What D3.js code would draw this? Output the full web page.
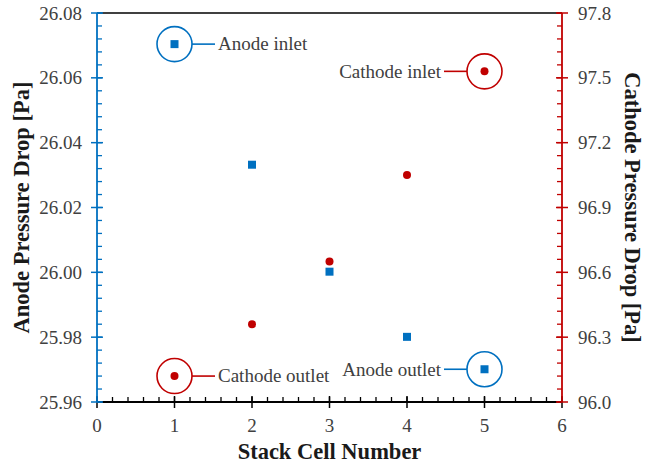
<!DOCTYPE html>
<html>
<head>
<meta charset="utf-8">
<script src="https://cdn.jsdelivr.net/npm/d3@7"></script>
<style>
  html, body { margin: 0; padding: 0; background: #fff; }
  svg { display: block; font-family: "Liberation Serif", "Times New Roman", serif; }
</style>
</head>
<body>
<svg id="chart" width="656" height="466"></svg>
<script>
// Stack cell numbers and measured pressure drops per cell
const cells = [1, 2, 3, 4, 5];
const anodeDrop = [26.0704, 26.0332, 26.0002, 25.9801, 25.9701];
const cathodeDrop = [96.12, 96.36, 96.65, 97.05, 97.53];

const xTicks = [0, 1, 2, 3, 4, 5, 6];
const anodeTicks = [25.96, 25.98, 26.00, 26.02, 26.04, 26.06, 26.08];
const cathodeTicks = [96.0, 96.3, 96.6, 96.9, 97.2, 97.5, 97.8];

// Callouts: which series, which cell, label text, side of the label
const callouts = [
  { series: "anode", cell: 1, text: "Anode inlet", side: "right" },
  { series: "anode", cell: 5, text: "Anode outlet", side: "left" },
  { series: "cathode", cell: 1, text: "Cathode outlet", side: "right" },
  { series: "cathode", cell: 5, text: "Cathode inlet", side: "left" }
];

const BLUE = "#0070C0", RED = "#C00000", INK = "#404040";
const margin = { left: 97, right: 94, top: 13, bottom: 64 };
const W = 656, H = 466;
const svg = d3.select("#chart");

const x = d3.scaleLinear().domain([0, 6]).range([margin.left, W - margin.right]);
const yA = d3.scaleLinear().domain([25.96, 26.08]).range([H - margin.bottom, margin.top]);
const yC = d3.scaleLinear().domain([96.0, 97.8]).range([H - margin.bottom, margin.top]);

const x0 = x.range()[0], x1 = x.range()[1];
const yBot = yA.range()[0], yTop = yA.range()[1];

// top frame line
svg.append("line").attr("x1", x0).attr("x2", x1).attr("y1", yTop).attr("y2", yTop)
  .attr("stroke", "#000").attr("stroke-width", 1.5);

// minor tick helper
function minor(lo, hi, step) {
  const n = Math.round((hi - lo) / step);
  return d3.range(n + 1).map(i => lo + i * step);
}

// bottom axis (black)
const gx = svg.append("g");
gx.selectAll("line.minor").data(minor(0, 6, 0.2)).join("line")
  .attr("x1", d => x(d)).attr("x2", d => x(d)).attr("y1", yBot).attr("y2", yBot - 5)
  .attr("stroke", "#000").attr("stroke-width", 1.3);
gx.selectAll("line.major").data(xTicks).join("line")
  .attr("x1", d => x(d)).attr("x2", d => x(d)).attr("y1", yBot - 6).attr("y2", yBot + 6)
  .attr("stroke", "#000").attr("stroke-width", 1.5);
gx.append("line").attr("x1", x0).attr("x2", x1).attr("y1", yBot).attr("y2", yBot)
  .attr("stroke", "#000").attr("stroke-width", 1.8);
gx.selectAll("text").data(xTicks).join("text")
  .attr("x", d => x(d)).attr("y", yBot + 30).attr("text-anchor", "middle")
  .attr("font-size", 19).attr("fill", INK).text(d => d);

// left axis (anode, blue)
const gl = svg.append("g");
gl.selectAll("line.minor").data(minor(25.96, 26.08, 0.004)).join("line")
  .attr("x1", x0).attr("x2", x0 + 5).attr("y1", d => yA(d)).attr("y2", d => yA(d))
  .attr("stroke", BLUE).attr("stroke-width", 1.3);
gl.selectAll("line.major").data(anodeTicks).join("line")
  .attr("x1", x0 - 6).attr("x2", x0 + 6).attr("y1", d => yA(d)).attr("y2", d => yA(d))
  .attr("stroke", BLUE).attr("stroke-width", 1.5);
gl.append("line").attr("x1", x0).attr("x2", x0).attr("y1", yTop).attr("y2", yBot)
  .attr("stroke", BLUE).attr("stroke-width", 1.8);
gl.selectAll("text").data(anodeTicks).join("text")
  .attr("x", x0 - 15).attr("y", d => yA(d)).attr("dy", "0.35em").attr("text-anchor", "end")
  .attr("font-size", 19).attr("fill", INK).text(d => d3.format(".2f")(d));

// right axis (cathode, red)
const gr = svg.append("g");
gr.selectAll("line.minor").data(minor(96.0, 97.8, 0.06)).join("line")
  .attr("x1", x1).attr("x2", x1 - 5).attr("y1", d => yC(d)).attr("y2", d => yC(d))
  .attr("stroke", RED).attr("stroke-width", 1.3);
gr.selectAll("line.major").data(cathodeTicks).join("line")
  .attr("x1", x1 - 6).attr("x2", x1 + 6).attr("y1", d => yC(d)).attr("y2", d => yC(d))
  .attr("stroke", RED).attr("stroke-width", 1.5);
gr.append("line").attr("x1", x1).attr("x2", x1).attr("y1", yTop).attr("y2", yBot)
  .attr("stroke", RED).attr("stroke-width", 1.8);
gr.selectAll("text").data(cathodeTicks).join("text")
  .attr("x", x1 + 16).attr("y", d => yC(d)).attr("dy", "0.35em").attr("text-anchor", "start")
  .attr("font-size", 19).attr("fill", INK).text(d => d3.format(".1f")(d));

// axis titles
svg.append("text").attr("x", (x0 + x1) / 2).attr("y", 459).attr("text-anchor", "middle")
  .attr("font-size", 22.5).attr("font-weight", "bold").attr("fill", "#1a1a1a")
  .text("Stack Cell Number");
svg.append("text").attr("transform", `translate(29,${(yTop + yBot) / 2}) rotate(-90)`)
  .attr("text-anchor", "middle").attr("font-size", 22.5).attr("font-weight", "bold").attr("fill", "#1a1a1a")
  .text("Anode Pressure Drop [Pa]");
svg.append("text").attr("transform", `translate(625,${(yTop + yBot) / 2}) rotate(90)`)
  .attr("text-anchor", "middle").attr("font-size", 22.5).attr("font-weight", "bold").attr("fill", "#1a1a1a")
  .text("Cathode Pressure Drop [Pa]");

// data markers
const anodePts = cells.map((c, i) => ({ c, v: anodeDrop[i] }));
const cathodePts = cells.map((c, i) => ({ c, v: cathodeDrop[i] }));
svg.append("g").selectAll("rect").data(anodePts).join("rect")
  .attr("x", d => x(d.c) - 4).attr("y", d => yA(d.v) - 4).attr("width", 8).attr("height", 8)
  .attr("fill", BLUE);
svg.append("g").selectAll("circle").data(cathodePts).join("circle")
  .attr("cx", d => x(d.c)).attr("cy", d => yC(d.v)).attr("r", 4)
  .attr("fill", RED);

// callout rings with leader lines and labels
const R = 17.5, LEAD = 23, GAP = 3;
const gc = svg.append("g");
callouts.forEach(co => {
  const i = cells.indexOf(co.cell);
  const color = co.series === "anode" ? BLUE : RED;
  const cx = x(co.cell);
  const cy = co.series === "anode" ? yA(anodeDrop[i]) : yC(cathodeDrop[i]);
  const dir = co.side === "right" ? 1 : -1;
  gc.append("circle").attr("cx", cx).attr("cy", cy).attr("r", R)
    .attr("fill", "none").attr("stroke", color).attr("stroke-width", 1.6);
  gc.append("line").attr("x1", cx + dir * R).attr("x2", cx + dir * (R + LEAD))
    .attr("y1", cy).attr("y2", cy).attr("stroke", color).attr("stroke-width", 1.6);
  gc.append("text").attr("x", cx + dir * (R + LEAD + GAP)).attr("y", cy).attr("dy", "0.33em")
    .attr("text-anchor", dir > 0 ? "start" : "end")
    .attr("font-size", 19).attr("fill", INK).text(co.text);
});
</script>
</body>
</html>
